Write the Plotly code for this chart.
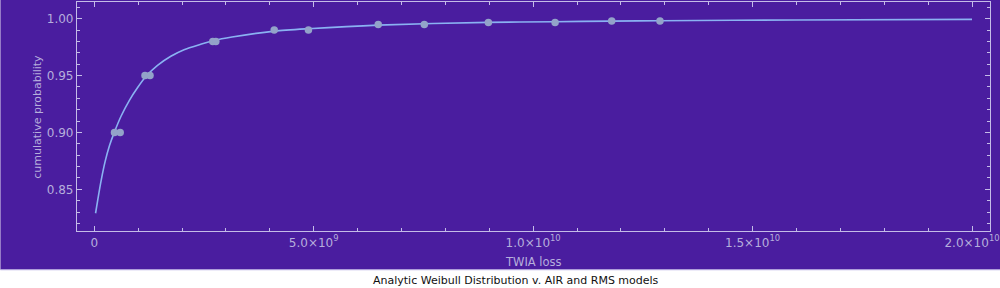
import plotly.graph_objects as go

# ---- data (losses in dollars) ----
curve_loss = [0.029e9, 0.082e9, 0.159e9, 0.249e9, 0.347e9, 0.460e9, 0.612e9, 0.800e9,
              0.988e9, 1.178e9, 1.441e9, 1.744e9, 2.045e9, 2.424e9, 2.725e9, 3.139e9,
              4.106e9, 4.877e9, 6.462e9, 8.976e9, 10.49e9, 11.78e9, 12.89e9, 16.0e9, 20.0e9]
curve_prob = [0.829, 0.8415, 0.8584, 0.8748, 0.8885, 0.9005, 0.9145, 0.9283,
              0.9395, 0.9494, 0.9590, 0.9670, 0.9728, 0.9775, 0.9808, 0.9839,
              0.9891, 0.9912, 0.9944, 0.9968, 0.9974, 0.9979, 0.9982, 0.9989, 0.9994]

air_loss = [0.46e9, 1.155e9, 2.70e9, 4.10e9, 6.47e9, 8.98e9, 11.79e9]
rms_loss = [0.59e9, 1.27e9, 2.77e9, 4.88e9, 7.52e9, 10.50e9, 12.89e9]
levels = [0.90, 0.95, 0.98, 0.99, 0.995, 0.99667, 0.998]

x_tickvals = [0, 5e9, 1e10, 1.5e10, 2e10]
x_ticktext = ["0", "5.0\u00d710<sup>9</sup>", "1.0\u00d710<sup>10</sup>",
              "1.5\u00d710<sup>10</sup>", "2.0\u00d710<sup>10</sup>"]
y_tickvals = [0.85, 0.90, 0.95, 1.00]
y_ticktext = ["0.85", "0.90", "0.95", "1.00"]

title_x = "TWIA loss"
title_y = "cumulative probability"
caption = "Analytic Weibull Distribution v. AIR and RMS models"

# ---- styles ----
BG = "#4a1d9f"
AX = "#c4bce8"
LBL = "#b6aedc"
CURVE = "#8ab2f2"
PT = "#93a3c9"
FONT = "DejaVu Sans"

W, H = 1000, 288
L, R, T, B = 77, 5, 1, 57
pw, ph = W - L - R, H - T - B

fig = go.Figure()
fig.add_trace(go.Scatter(x=curve_loss, y=curve_prob, mode="lines",
                         line=dict(color=CURVE, width=1.6, shape="spline", smoothing=0.7),
                         hoverinfo="skip", showlegend=False))
fig.add_trace(go.Scatter(x=air_loss, y=levels, mode="markers",
                         marker=dict(color=PT, size=7.5), name="AIR", showlegend=False))
fig.add_trace(go.Scatter(x=rms_loss, y=levels, mode="markers",
                         marker=dict(color=PT, size=7.5), name="RMS", showlegend=False))

# purple background for the upper part of the page
fig.add_shape(type="rect", xref="paper", yref="paper",
              x0=-L / pw, x1=(W - L) / pw + 0.01,
              y0=(H - B - 270) / ph, y1=(H - B + 5) / ph,
              fillcolor=BG, line_width=0, layer="below")
fig.add_shape(type="line", xref="paper", yref="paper",
              x0=-L / pw, x1=(W - L) / pw + 0.01,
              y0=(H - B - 270) / ph, y1=(H - B - 270) / ph,
              line=dict(color="#c9c1ea", width=1), layer="below")

axis_common = dict(showgrid=False, zeroline=False, showline=True, linecolor=AX, linewidth=1.2,
                   mirror="allticks", ticks="inside", tickcolor=AX, ticklen=5, tickwidth=1,
                   tickfont=dict(family=FONT, size=12, color=LBL))

fig.update_xaxes(range=[-0.394e9, 20.41e9], tickmode="array", tickvals=x_tickvals,
                 ticktext=x_ticktext, ticklabeloverflow="allow",
                 minor=dict(dtick=1e9, tick0=0, ticks="inside", ticklen=3, tickcolor=AX),
                 **axis_common)
fig.update_yaxes(range=[0.8134, 1.0147], tickmode="array", tickvals=y_tickvals,
                 ticktext=y_ticktext,
                 minor=dict(dtick=0.01, tick0=0.8, ticks="inside", ticklen=3, tickcolor=AX),
                 **axis_common)

fig.add_annotation(text=title_x, xref="paper", yref="paper",
                   x=0.5, y=(H - B - 262) / ph, xanchor="center", yanchor="middle",
                   showarrow=False, font=dict(family=FONT, size=11.5, color=LBL))
fig.add_annotation(text=title_y, xref="paper", yref="paper",
                   x=(37 - L) / pw, y=0.5, xanchor="center", yanchor="middle", textangle=-90,
                   showarrow=False, font=dict(family=FONT, size=11, color=LBL))
fig.add_annotation(text=caption, xref="paper", yref="paper",
                   x=(518 - L) / pw, y=(H - B - 281) / ph, xanchor="center", yanchor="middle",
                   showarrow=False, font=dict(family=FONT, size=11, color="#111111"))

fig.update_layout(width=W, height=H, margin=dict(l=L, r=R, t=T, b=B, pad=0),
                  paper_bgcolor="white", plot_bgcolor=BG, showlegend=False)

fig.write_html("out.html")
